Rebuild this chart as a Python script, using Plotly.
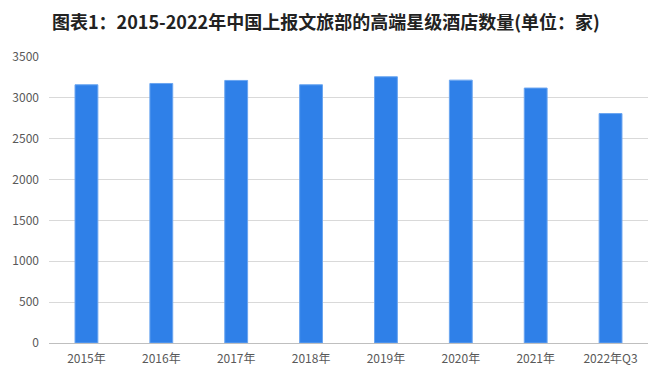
import plotly.graph_objects as go

categories = ["2015年", "2016年", "2017年", "2018年", "2019年", "2020年", "2021年", "2022年Q3"]
values = [3160, 3176, 3213, 3160, 3258, 3217, 3120, 2808]
y_ticks = [0, 500, 1000, 1500, 2000, 2500, 3000, 3500]
title_text = "图表1：2015-2022年中国上报文旅部的高端星级酒店数量(单位：家)"

fig = go.Figure()
fig.add_trace(go.Bar(
    x=categories, y=values,
    marker=dict(color="#2F80E8", line=dict(color="#6AA5F0", width=1)),
))

fig.update_layout(
    width=665, height=379,
    margin=dict(l=46, r=17, t=57, b=36),
    paper_bgcolor="white", plot_bgcolor="white",
    bargap=0.695,
    showlegend=False,
    font=dict(family="Noto Sans CJK SC, Noto Sans, sans-serif", size=12, color="#595959"),
    title=dict(text="<b>" + title_text + "</b>", x=0.49, xanchor="center", y=0.94, yanchor="middle",
               font=dict(size=18, color="#222222", family="Noto Sans CJK SC, sans-serif")),
    xaxis=dict(showgrid=False, showline=True, linecolor="#BFBFBF", linewidth=1,
               ticks="", ticklabelstandoff=5, tickfont=dict(size=12, color="#595959")),
    yaxis=dict(range=[0, 3500], tickvals=y_ticks, showgrid=True, gridcolor="#D9D9D9", gridwidth=1,
               zeroline=False, showline=False, ticks="", ticklen=0, ticklabelstandoff=9,
               tickfont=dict(size=12, color="#595959")),
)

fig.write_html("out.html")
